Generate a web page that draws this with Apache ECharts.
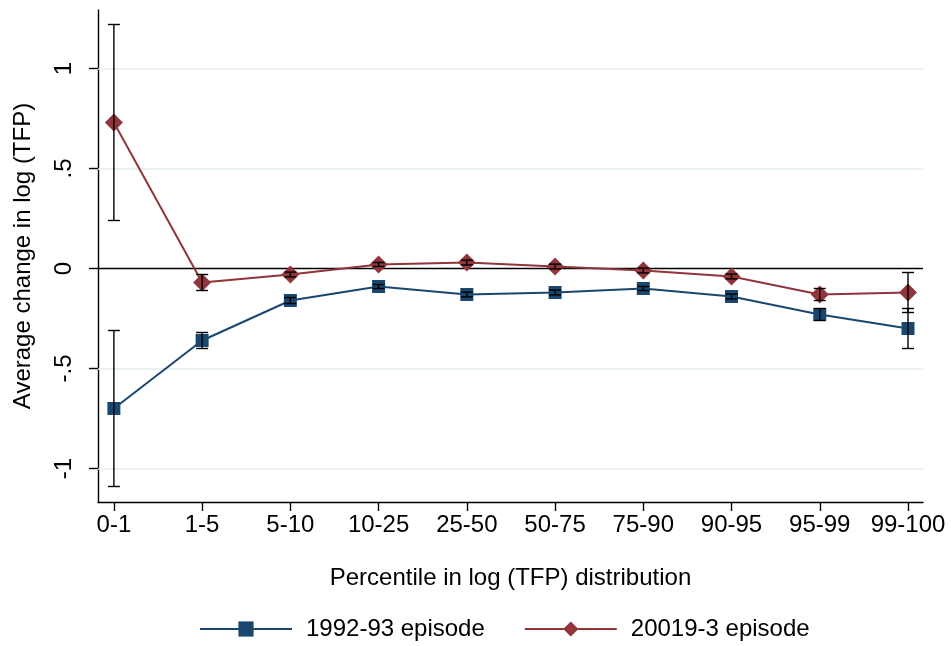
<!DOCTYPE html>
<html>
<head>
<meta charset="utf-8">
<script src="https://cdn.jsdelivr.net/npm/echarts@6/dist/echarts.min.js"></script>
<style>
  html, body { margin: 0; padding: 0; background: #fff; }
  #chart { width: 951px; height: 646px; }
</style>
</head>
<body>
<div id="chart"></div>
<script>
// Percentile bins of the log (TFP) distribution
const categories = ['0-1', '1-5', '5-10', '10-25', '25-50', '50-75', '75-90', '90-95', '95-99', '99-100'];

// 1992-93 episode: mean change and confidence bounds
const ep1992 = [-0.70, -0.36, -0.16, -0.09, -0.13, -0.12, -0.10, -0.14, -0.23, -0.30];
const ep1992Lo = [-1.09, -0.40, -0.175, -0.10, -0.142, -0.132, -0.11, -0.152, -0.26, -0.40];
const ep1992Hi = [-0.31, -0.32, -0.145, -0.08, -0.118, -0.108, -0.09, -0.128, -0.20, -0.20];

// 20019-3 episode: mean change and confidence bounds
const ep2019 = [0.73, -0.07, -0.03, 0.02, 0.03, 0.01, -0.01, -0.04, -0.13, -0.12];
const ep2019Lo = [0.24, -0.11, -0.042, 0.01, 0.018, -0.002, -0.022, -0.052, -0.16, -0.22];
const ep2019Hi = [1.22, -0.03, -0.018, 0.03, 0.042, 0.022, 0.002, -0.028, -0.10, -0.02];

// y-axis ticks and their labels
const yTicks = [-1, -0.5, 0, 0.5, 1];
const yTickLabels = ['-1', '-.5', '0', '.5', '1'];
const gridValues = [-1, -0.5, 0.5, 1];

const FONT = 'Liberation Sans, Arial, Helvetica, sans-serif';
const BLUE = '#1a476f';
const RED = '#90353b';

const xIdx = categories.map((_, i) => i);
const pairs = (vals) => vals.map((v, i) => [i, v]);
const bars = (lo, hi) => lo.map((l, i) => [i, l, hi[i]]);

function renderErrorBar(params, api) {
  const x = api.value(0);
  const pLo = api.coord([x, api.value(1)]);
  const pHi = api.coord([x, api.value(2)]);
  const hw = 6;
  const st = { stroke: '#000', lineWidth: 1.4 };
  return {
    type: 'group',
    children: [
      { type: 'line', shape: { x1: pLo[0], y1: pLo[1], x2: pHi[0], y2: pHi[1] }, style: st },
      { type: 'line', shape: { x1: pLo[0] - hw, y1: pLo[1], x2: pLo[0] + hw, y2: pLo[1] }, style: st },
      { type: 'line', shape: { x1: pHi[0] - hw, y1: pHi[1], x2: pHi[0] + hw, y2: pHi[1] }, style: st }
    ]
  };
}

const chart = echarts.init(document.getElementById('chart'), null, { renderer: 'canvas' });

chart.setOption({
  animation: false,
  backgroundColor: '#fff',
  textStyle: { fontFamily: FONT },
  grid: { left: 98, right: 28, top: 10, bottom: 144, containLabel: false },
  legend: {
    top: 612,
    left: 194,
    itemWidth: 92,
    itemHeight: 19,
    itemGap: 39,
    data: ['1992-93 episode', '20019-3 episode'],
    textStyle: { fontSize: 24, color: '#000', fontFamily: FONT, padding: [0, 0, 0, 9] }
  },
  xAxis: {
    type: 'value',
    min: -0.18,
    max: 9.17,
    name: 'Percentile in log (TFP) distribution',
    nameLocation: 'middle',
    nameGap: 64,
    nameTextStyle: { fontSize: 24, color: '#000', fontFamily: FONT },
    axisLine: { show: true, onZero: false, lineStyle: { color: '#000', width: 1.4 } },
    axisTick: { show: true, length: 9, customValues: xIdx, lineStyle: { color: '#000', width: 1.4 } },
    axisLabel: {
      customValues: xIdx,
      margin: 11,
      fontSize: 24,
      color: '#000',
      fontFamily: FONT,
      formatter: (v) => categories[Math.round(v)]
    },
    splitLine: { show: false }
  },
  yAxis: {
    type: 'value',
    min: -1.1675,
    max: 1.2925,
    name: 'Average change in log (TFP)',
    nameLocation: 'middle',
    nameGap: 63,
    nameTextStyle: { fontSize: 24, color: '#000', fontFamily: FONT },
    axisLine: { show: true, onZero: false, lineStyle: { color: '#000', width: 1.4 } },
    axisTick: { show: true, length: 9, customValues: yTicks, lineStyle: { color: '#000', width: 1.4 } },
    axisLabel: {
      customValues: yTicks,
      rotate: 90,
      margin: 22,
      fontSize: 24,
      color: '#000',
      fontFamily: FONT,
      formatter: (v) => yTickLabels[yTicks.findIndex((t) => Math.abs(t - v) < 1e-9)]
    },
    splitLine: { show: false }
  },
  series: [
    {
      name: '1992-93 episode',
      type: 'line',
      data: pairs(ep1992),
      symbol: 'rect',
      symbolSize: 13,
      showAllSymbol: true,
      color: BLUE,
      lineStyle: { color: BLUE, width: 2 },
      itemStyle: { color: BLUE },
      z: 3,
      markLine: {
        silent: true,
        symbol: 'none',
        label: { show: false },
        lineStyle: { color: '#e2ecef', width: 1.5, type: 'solid' },
        data: gridValues.map((v) => ({ yAxis: v })),
        z: 1
      }
    },
    {
      name: '20019-3 episode',
      type: 'line',
      data: pairs(ep2019),
      symbol: 'diamond',
      symbolSize: 18,
      showAllSymbol: true,
      color: RED,
      lineStyle: { color: RED, width: 2 },
      itemStyle: { color: RED },
      z: 4,
      markLine: {
        silent: true,
        symbol: 'none',
        label: { show: false },
        lineStyle: { color: '#000', width: 1.4, type: 'solid' },
        data: [{ yAxis: 0 }],
        z: 2
      }
    },
    {
      name: 'ci1992',
      type: 'custom',
      renderItem: renderErrorBar,
      data: bars(ep1992Lo, ep1992Hi),
      encode: { x: 0, y: [1, 2] },
      silent: true,
      z: 10
    },
    {
      name: 'ci2019',
      type: 'custom',
      renderItem: renderErrorBar,
      data: bars(ep2019Lo, ep2019Hi),
      encode: { x: 0, y: [1, 2] },
      silent: true,
      z: 10
    }
  ]
});
</script>
</body>
</html>
